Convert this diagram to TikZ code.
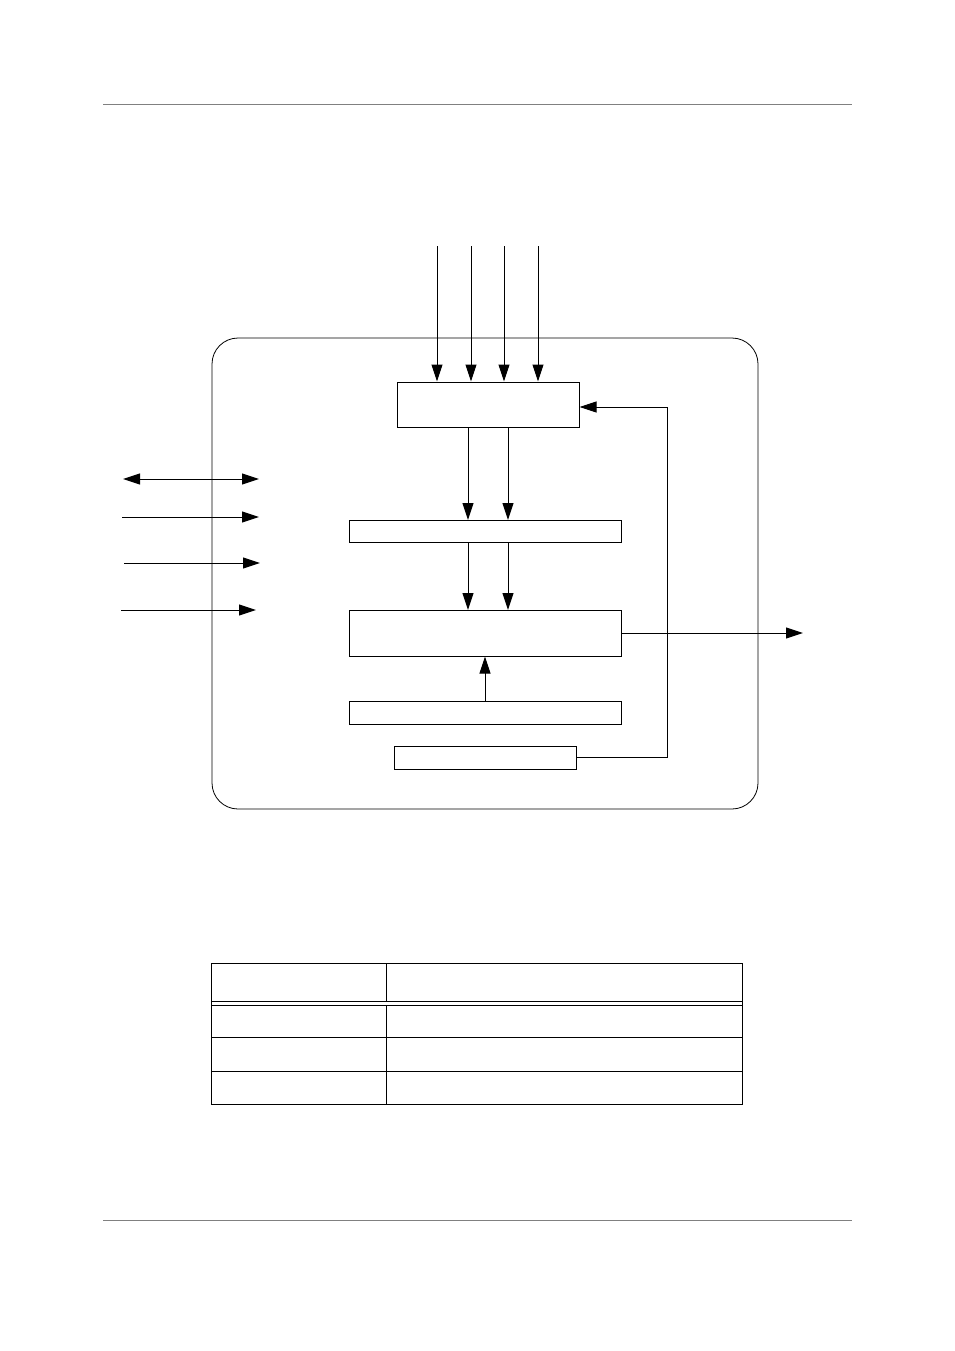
\documentclass[tikz,border=0pt]{standalone}
\usetikzlibrary{arrows.meta}
\begin{document}
\begin{tikzpicture}[x=1pt,y=-1pt,
  blk/.style={draw,line width=1pt,inner sep=0pt},
  conn/.style={line width=1pt},
  arr/.style={conn,-{Triangle[length=17pt,width=11pt]}},
  darr/.style={conn,{Triangle[length=17pt,width=11pt]}-{Triangle[length=17pt,width=11pt]}},
  rule/.style={draw=gray,line width=0.8pt},
  tbl/.style={line width=1pt}]
\useasboundingbox (0,0) rectangle (954,1351);
% page rules
\draw[rule] (103,104) -- (852,104);
\draw[rule] (103,1220) -- (852,1220);
% outer rounded frame
\draw[line width=0.8pt,rounded corners=26pt] (212,338) rectangle (758,809);
% blocks
\node[blk,minimum width=182pt,minimum height=45pt] (b1) at (488,404.5) {};
\node[blk,minimum width=272pt,minimum height=22pt] (b2) at (485,531) {};
\node[blk,minimum width=272pt,minimum height=46pt] (b3) at (485,633) {};
\node[blk,minimum width=272pt,minimum height=23pt] (b4) at (485,712.5) {};
\node[blk,minimum width=182pt,minimum height=23pt] (b5) at (485,757.5) {};
% top inputs
\foreach \x/\n in {437/a,471/b,504/c,538/d}{
  \coordinate (t\n) at (\x,246);
  \draw[arr] (t\n) -- (t\n |- b1.north);
}
% b1 -> b2 -> b3
\foreach \x in {468,508}{
  \draw[arr] (\x,427) -- (\x,520);
  \draw[arr] (\x,542) -- (\x,610);
}
% b4 -> b3
\draw[arr] (b4.north) -- (b3.south);
% output
\coordinate (out) at (803,633);
\draw[arr] (b3.east) -- (out);
% feedback b5 -> b1
\coordinate (fb) at (667,407);
\draw[arr] (b5.east) -| (fb) -- (b1.east |- fb);
% left signals
\coordinate (l1a) at (123,479); \coordinate (l1b) at (259,479);
\coordinate (l2a) at (122,517); \coordinate (l2b) at (259,517);
\coordinate (l3a) at (124,563); \coordinate (l3b) at (260,563);
\coordinate (l4a) at (121,610); \coordinate (l4b) at (256,610);
\draw[darr] (l1a) -- (l1b);
\draw[arr] (l2a) -- (l2b);
\draw[arr] (l3a) -- (l3b);
\draw[arr] (l4a) -- (l4b);
% table
\draw[tbl] (211,963) rectangle (742,1104);
\draw[tbl] (211,1001) -- (742,1001);
\draw[tbl] (211,1005) -- (742,1005);
\draw[tbl] (211,1037) -- (742,1037);
\draw[tbl] (211,1071) -- (742,1071);
\draw[tbl] (386,963) -- (386,1001);
\draw[tbl] (386,1005) -- (386,1104);
\end{tikzpicture}
\end{document}
